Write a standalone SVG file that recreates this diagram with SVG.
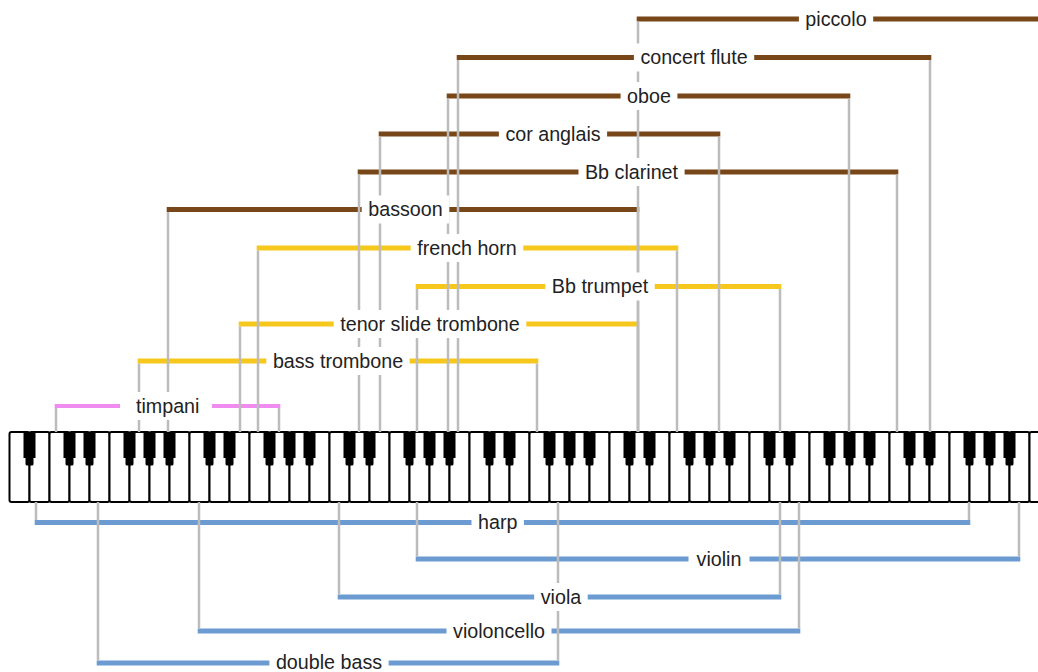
<svg xmlns="http://www.w3.org/2000/svg" xmlns:xlink="http://www.w3.org/1999/xlink" width="1038" height="672" viewBox="0 0 1038 672">
<style>
.wk{fill:#fff;stroke:#000;stroke-width:2}
.bk{fill:#000}
.v{stroke:#bcbcbc;stroke-width:2.5;fill:none}
.ww{stroke:#774719;stroke-width:5;fill:none}
.br{stroke:#f6c81e;stroke-width:5;fill:none}
.pc{stroke:#f08cf0;stroke-width:4;fill:none}
.st{stroke:#6b9bd1;stroke-width:5;fill:none}
.lb rect{fill:#fff}
.lb text{font-family:"Liberation Sans",Arial,sans-serif;font-size:19.7px;fill:#222;text-anchor:middle}
</style>
<defs>
<path id="bk" d="M-6 432 h12 v26 h-2 v6 q0 1.5 -1.5 1.5 h-5 q-1.5 0 -1.5 -1.5 v-6 h-2 z"/>
</defs>
<rect width="1038" height="672" fill="#fff"/>
<g id="keyboard">
<g id="white-keys">
<rect class="wk" x="9.5" y="432" width="20" height="70" rx="2"/>
<rect class="wk" x="29.5" y="432" width="20" height="70" rx="2"/>
<rect class="wk" x="49.5" y="432" width="20" height="70" rx="2"/>
<rect class="wk" x="69.5" y="432" width="20" height="70" rx="2"/>
<rect class="wk" x="89.5" y="432" width="20" height="70" rx="2"/>
<rect class="wk" x="109.5" y="432" width="20" height="70" rx="2"/>
<rect class="wk" x="129.5" y="432" width="20" height="70" rx="2"/>
<rect class="wk" x="149.5" y="432" width="20" height="70" rx="2"/>
<rect class="wk" x="169.5" y="432" width="20" height="70" rx="2"/>
<rect class="wk" x="189.5" y="432" width="20" height="70" rx="2"/>
<rect class="wk" x="209.5" y="432" width="20" height="70" rx="2"/>
<rect class="wk" x="229.5" y="432" width="20" height="70" rx="2"/>
<rect class="wk" x="249.5" y="432" width="20" height="70" rx="2"/>
<rect class="wk" x="269.5" y="432" width="20" height="70" rx="2"/>
<rect class="wk" x="289.5" y="432" width="20" height="70" rx="2"/>
<rect class="wk" x="309.5" y="432" width="20" height="70" rx="2"/>
<rect class="wk" x="329.5" y="432" width="20" height="70" rx="2"/>
<rect class="wk" x="349.5" y="432" width="20" height="70" rx="2"/>
<rect class="wk" x="369.5" y="432" width="20" height="70" rx="2"/>
<rect class="wk" x="389.5" y="432" width="20" height="70" rx="2"/>
<rect class="wk" x="409.5" y="432" width="20" height="70" rx="2"/>
<rect class="wk" x="429.5" y="432" width="20" height="70" rx="2"/>
<rect class="wk" x="449.5" y="432" width="20" height="70" rx="2"/>
<rect class="wk" x="469.5" y="432" width="20" height="70" rx="2"/>
<rect class="wk" x="489.5" y="432" width="20" height="70" rx="2"/>
<rect class="wk" x="509.5" y="432" width="20" height="70" rx="2"/>
<rect class="wk" x="529.5" y="432" width="20" height="70" rx="2"/>
<rect class="wk" x="549.5" y="432" width="20" height="70" rx="2"/>
<rect class="wk" x="569.5" y="432" width="20" height="70" rx="2"/>
<rect class="wk" x="589.5" y="432" width="20" height="70" rx="2"/>
<rect class="wk" x="609.5" y="432" width="20" height="70" rx="2"/>
<rect class="wk" x="629.5" y="432" width="20" height="70" rx="2"/>
<rect class="wk" x="649.5" y="432" width="20" height="70" rx="2"/>
<rect class="wk" x="669.5" y="432" width="20" height="70" rx="2"/>
<rect class="wk" x="689.5" y="432" width="20" height="70" rx="2"/>
<rect class="wk" x="709.5" y="432" width="20" height="70" rx="2"/>
<rect class="wk" x="729.5" y="432" width="20" height="70" rx="2"/>
<rect class="wk" x="749.5" y="432" width="20" height="70" rx="2"/>
<rect class="wk" x="769.5" y="432" width="20" height="70" rx="2"/>
<rect class="wk" x="789.5" y="432" width="20" height="70" rx="2"/>
<rect class="wk" x="809.5" y="432" width="20" height="70" rx="2"/>
<rect class="wk" x="829.5" y="432" width="20" height="70" rx="2"/>
<rect class="wk" x="849.5" y="432" width="20" height="70" rx="2"/>
<rect class="wk" x="869.5" y="432" width="20" height="70" rx="2"/>
<rect class="wk" x="889.5" y="432" width="20" height="70" rx="2"/>
<rect class="wk" x="909.5" y="432" width="20" height="70" rx="2"/>
<rect class="wk" x="929.5" y="432" width="20" height="70" rx="2"/>
<rect class="wk" x="949.5" y="432" width="20" height="70" rx="2"/>
<rect class="wk" x="969.5" y="432" width="20" height="70" rx="2"/>
<rect class="wk" x="989.5" y="432" width="20" height="70" rx="2"/>
<rect class="wk" x="1009.5" y="432" width="20" height="70" rx="2"/>
<rect class="wk" x="1029.5" y="432" width="20" height="70" rx="2"/>
</g>
<g id="black-keys" class="bk">
<use xlink:href="#bk" href="#bk" x="29.5"/>
<use xlink:href="#bk" href="#bk" x="69.5"/>
<use xlink:href="#bk" href="#bk" x="89.5"/>
<use xlink:href="#bk" href="#bk" x="129.5"/>
<use xlink:href="#bk" href="#bk" x="149.5"/>
<use xlink:href="#bk" href="#bk" x="169.5"/>
<use xlink:href="#bk" href="#bk" x="209.5"/>
<use xlink:href="#bk" href="#bk" x="229.5"/>
<use xlink:href="#bk" href="#bk" x="269.5"/>
<use xlink:href="#bk" href="#bk" x="289.5"/>
<use xlink:href="#bk" href="#bk" x="309.5"/>
<use xlink:href="#bk" href="#bk" x="349.5"/>
<use xlink:href="#bk" href="#bk" x="369.5"/>
<use xlink:href="#bk" href="#bk" x="409.5"/>
<use xlink:href="#bk" href="#bk" x="429.5"/>
<use xlink:href="#bk" href="#bk" x="449.5"/>
<use xlink:href="#bk" href="#bk" x="489.5"/>
<use xlink:href="#bk" href="#bk" x="509.5"/>
<use xlink:href="#bk" href="#bk" x="549.5"/>
<use xlink:href="#bk" href="#bk" x="569.5"/>
<use xlink:href="#bk" href="#bk" x="589.5"/>
<use xlink:href="#bk" href="#bk" x="629.5"/>
<use xlink:href="#bk" href="#bk" x="649.5"/>
<use xlink:href="#bk" href="#bk" x="689.5"/>
<use xlink:href="#bk" href="#bk" x="709.5"/>
<use xlink:href="#bk" href="#bk" x="729.5"/>
<use xlink:href="#bk" href="#bk" x="769.5"/>
<use xlink:href="#bk" href="#bk" x="789.5"/>
<use xlink:href="#bk" href="#bk" x="829.5"/>
<use xlink:href="#bk" href="#bk" x="849.5"/>
<use xlink:href="#bk" href="#bk" x="869.5"/>
<use xlink:href="#bk" href="#bk" x="909.5"/>
<use xlink:href="#bk" href="#bk" x="929.5"/>
<use xlink:href="#bk" href="#bk" x="969.5"/>
<use xlink:href="#bk" href="#bk" x="989.5"/>
<use xlink:href="#bk" href="#bk" x="1009.5"/>
</g>
</g>
<g id="connectors">
<g id="bars">
<path class="ww" d="M636.7 19H1045"/>
<path class="ww" d="M456.7 57.5H931.3"/>
<path class="ww" d="M446.7 96H850.3"/>
<path class="ww" d="M378.7 134H720.3"/>
<path class="ww" d="M357.7 172H898.3"/>
<path class="ww" d="M166.7 209.5H639.3"/>
<path class="br" d="M256.7 248H678.3"/>
<path class="br" d="M415.7 286.5H781.3"/>
<path class="br" d="M238.7 324H639.3"/>
<path class="br" d="M137.7 361H538.3"/>
<path class="pc" d="M54.7 406H280.3"/>
<path class="st" d="M34.7 522.5H970.3"/>
<path class="st" d="M415.7 559H1020.3"/>
<path class="st" d="M337.7 597H781.3"/>
<path class="st" d="M197.7 631H800.3"/>
<path class="st" d="M96.7 663H559.3"/>
</g>
<g id="leaders" class="v">
<path d="M638 21.5V432"/>
<path d="M458 60V432M930 60V432"/>
<path d="M448 98.5V432M849 98.5V432"/>
<path d="M380 136.5V432M719 136.5V432"/>
<path d="M359 174.5V432M897 174.5V432"/>
<path d="M168 212V432M638 212V432"/>
<path d="M258 250.5V432M677 250.5V432"/>
<path d="M417 289V432M780 289V432"/>
<path d="M240 326.5V432M638 326.5V432"/>
<path d="M139 363.5V432M537 363.5V432"/>
<path d="M56 408V432M279 408V432"/>
<path d="M36 502V520M969 502V520"/>
<path d="M417 502V556.5M1019 502V556.5"/>
<path d="M339 502V594.5M780 502V594.5"/>
<path d="M199 502V628.5M799 502V628.5"/>
<path d="M98 502V660.5M558 502V660.5"/>
</g>
</g>
<g id="piccolo" class="lb"><rect x="798.9" y="5" width="74.3" height="28"/><text x="836" y="25.8">piccolo</text></g>
<g id="concert-flute" class="lb"><rect x="633.9" y="43.5" width="120.3" height="28"/><text x="694" y="64.3">concert flute</text></g>
<g id="oboe" class="lb"><rect x="620.6" y="82" width="56.8" height="28"/><text x="649" y="102.8">oboe</text></g>
<g id="cor-anglais" class="lb"><rect x="498.9" y="120" width="108.2" height="28"/><text x="553" y="140.8">cor anglais</text></g>
<g id="bb-clarinet" class="lb"><rect x="578.5" y="158" width="106.1" height="28"/><text x="631.5" y="178.8">Bb clarinet</text></g>
<g id="bassoon" class="lb"><rect x="361.7" y="195.5" width="87.5" height="28"/><text x="405.5" y="216.3">bassoon</text></g>
<g id="french-horn" class="lb"><rect x="410.7" y="234" width="112.6" height="28"/><text x="467" y="254.8">french horn</text></g>
<g id="bb-trumpet" class="lb"><rect x="545.3" y="272.5" width="109.4" height="28"/><text x="600" y="293.3">Bb trumpet</text></g>
<g id="tenor-slide-trombone" class="lb"><rect x="333.7" y="310" width="192.6" height="28"/><text x="430" y="330.8">tenor slide trombone</text></g>
<g id="bass-trombone" class="lb"><rect x="266.3" y="347" width="143.3" height="28"/><text x="338" y="367.8">bass trombone</text></g>
<g id="timpani" class="lb"><rect x="120" y="392" width="92" height="28"/><text x="167.7" y="412.8">timpani</text></g>
<g id="harp" class="lb"><rect x="471.5" y="508.5" width="52.4" height="28"/><text x="497.7" y="529.3">harp</text></g>
<g id="violin" class="lb"><rect x="688.5" y="545" width="61" height="28"/><text x="719" y="565.8">violin</text></g>
<g id="viola" class="lb"><rect x="534.2" y="583" width="53.5" height="28"/><text x="561" y="603.8">viola</text></g>
<g id="violoncello" class="lb"><rect x="446.5" y="617" width="105" height="28"/><text x="499" y="637.8">violoncello</text></g>
<g id="double-bass" class="lb"><rect x="269.4" y="650" width="119.2" height="22"/><text x="329" y="669.2">double bass</text></g>
</svg>
